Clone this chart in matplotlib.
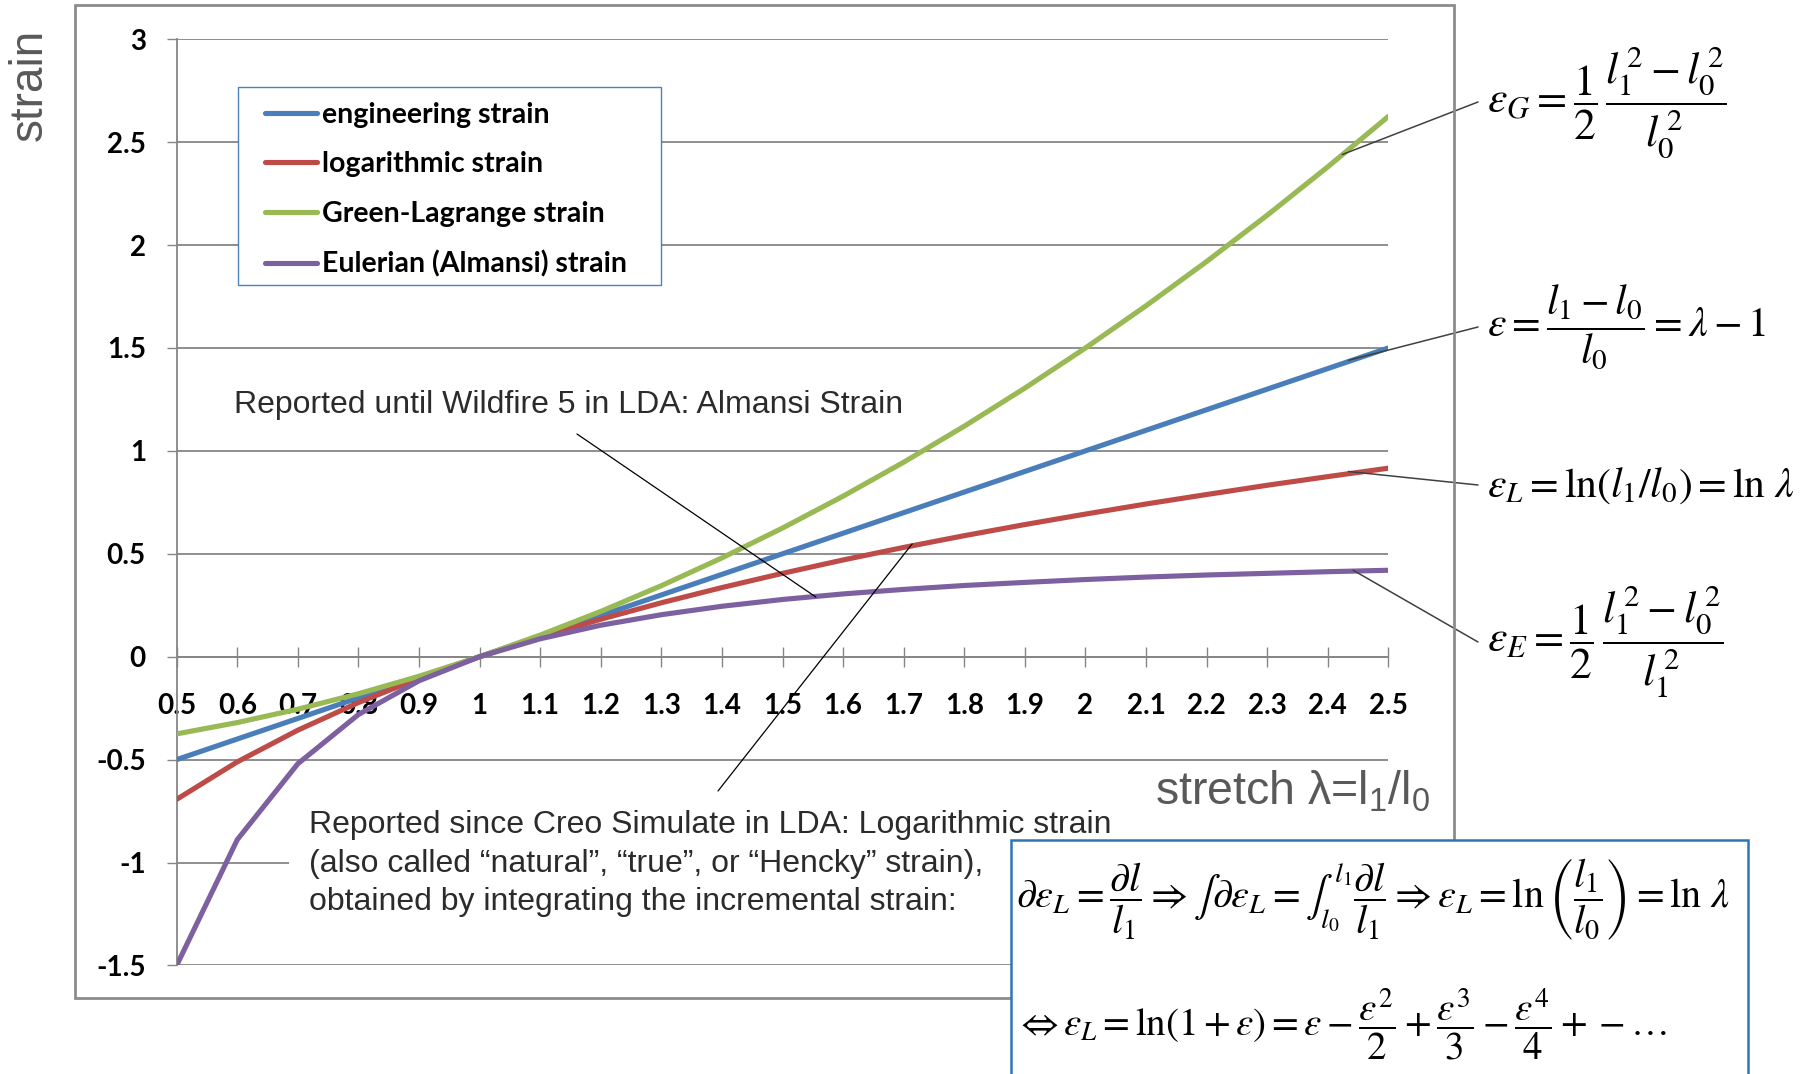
import matplotlib
matplotlib.use('Agg')
import matplotlib.pyplot as plt
from matplotlib.patches import Rectangle

# stretch values and strain measures
stretch = [0.5, 0.6, 0.7, 0.8, 0.9, 1.0, 1.1, 1.2, 1.3, 1.4, 1.5,
           1.6, 1.7, 1.8, 1.9, 2.0, 2.1, 2.2, 2.3, 2.4, 2.5]
engineering = [-0.5, -0.4, -0.3, -0.2, -0.1, 0.0, 0.1, 0.2, 0.3, 0.4, 0.5,
               0.6, 0.7, 0.8, 0.9, 1.0, 1.1, 1.2, 1.3, 1.4, 1.5]
logarithmic = [-0.693, -0.511, -0.357, -0.223, -0.105, 0.0, 0.095, 0.182, 0.262, 0.336, 0.405,
               0.470, 0.531, 0.588, 0.642, 0.693, 0.742, 0.788, 0.833, 0.875, 0.916]
green_lagrange = [-0.375, -0.32, -0.255, -0.18, -0.095, 0.0, 0.105, 0.22, 0.345, 0.48, 0.625,
                  0.78, 0.945, 1.12, 1.305, 1.5, 1.705, 1.92, 2.145, 2.38, 2.625]
almansi = [-1.5, -0.889, -0.520, -0.281, -0.117, 0.0, 0.087, 0.153, 0.204, 0.245, 0.278,
           0.305, 0.327, 0.346, 0.361, 0.375, 0.387, 0.397, 0.405, 0.413, 0.42]

series_names = ['engineering strain', 'logarithmic strain',
                'Green-Lagrange strain', 'Eulerian (Almansi) strain']
series_colors = ['#4A7EBB', '#BE4B48', '#98B954', '#7D60A0']

x_tick_labels = ['0.5', '0.6', '0.7', '0.8', '0.9', '1', '1.1', '1.2', '1.3', '1.4', '1.5',
                 '1.6', '1.7', '1.8', '1.9', '2', '2.1', '2.2', '2.3', '2.4', '2.5']
y_ticks = [-1.5, -1.0, -0.5, 0.0, 0.5, 1.0, 1.5, 2.0, 2.5, 3.0]
y_tick_labels = ['-1.5', '-1', '-0.5', '0', '0.5', '1', '1.5', '2', '2.5', '3']

plt.rcParams['mathtext.fontset'] = 'stix'
plt.rcParams['mathtext.rm'] = 'Liberation Sans'
plt.rcParams['mathtext.it'] = 'Liberation Sans:italic'
plt.rcParams['mathtext.bf'] = 'Liberation Sans:bold'

W, H = 1810, 1074
fig = plt.figure(figsize=(W / 100, H / 100), dpi=100)


def fx(px):
    return px / W


def fy(py):
    return 1 - py / H


grid_c = '#868686'

# outer chart frame
fig.add_artist(Rectangle((fx(75), fy(998)), fx(1454) - fx(75), fy(5) - fy(998),
                         fill=False, ec='#8C8C8C', lw=2, zorder=0.5))

ax = fig.add_axes([fx(176.7), fy(965.4), fx(1388.3) - fx(176.7), fy(39.3) - fy(965.4)])
ax.set_xlim(0.5, 2.5)
ax.set_ylim(-1.5, 3)
ax.patch.set_alpha(0)

for ys, name, c in zip([engineering, logarithmic, green_lagrange, almansi],
                       series_names, series_colors):
    ax.plot(stretch, ys, color=c, lw=3.7, label=name, zorder=3, solid_capstyle='round')

ax.spines['top'].set_visible(False)
ax.spines['right'].set_visible(False)
ax.spines['bottom'].set_position(('data', 0))
ax.spines['bottom'].set_color(grid_c)
ax.spines['left'].set_color(grid_c)
ax.spines['bottom'].set_linewidth(1.3)
ax.spines['left'].set_linewidth(1.3)

ax.set_axisbelow(True)
ax.yaxis.grid(True, color=grid_c, lw=1.3)

ax.set_xticks(stretch)
ax.set_xticklabels(x_tick_labels, fontfamily='Lato', fontweight='bold', fontsize=20)
ax.set_yticks(y_ticks)
ax.set_yticklabels(y_tick_labels, fontfamily='Lato', fontweight='bold', fontsize=20)
ax.tick_params(axis='x', direction='inout', length=14.4, width=1, color=grid_c, pad=19)
ax.tick_params(axis='y', direction='out', length=7.2, width=1, color=grid_c, pad=15)

# legend with its own box
ax.add_patch(Rectangle((fx(238), fy(285)), fx(661) - fx(238), fy(87) - fy(285),
                       transform=fig.transFigure, fc='white', ec='#4F81BD', lw=1,
                       zorder=4, clip_on=False))
leg = ax.legend(loc='upper left', bbox_to_anchor=(fx(265), fy(101.5)),
                bbox_transform=fig.transFigure, frameon=False, borderpad=0,
                borderaxespad=0, handlelength=1.84, handletextpad=0.15,
                labelspacing=0.83,
                prop={'family': 'Lato', 'weight': 'bold', 'size': 20.5})
leg.set_zorder(5)

# white background behind the lower note
ax.add_patch(Rectangle((fx(289), fy(935)), fx(1011) - fx(289), fy(797) - fy(935),
                       transform=fig.transFigure, fc='white', ec='none',
                       zorder=4, clip_on=False))

fig.text(fx(30), fy(85), 'strain', rotation=90, ha='center', va='center',
         fontsize=33, color='#595959', family='Liberation Sans')
fig.text(fx(1155), fy(805), 'stretch λ=l$_1$/l$_0$', ha='left', va='baseline',
         fontsize=33.5, color='#595959', family='Liberation Sans', math_fontfamily='custom')

note_c = '#2B2B2B'
fig.text(fx(234), fy(413), 'Reported until Wildfire 5 in LDA: Almansi Strain',
         ha='left', va='baseline', fontsize=23, color=note_c, family='Liberation Sans')
fig.text(fx(309), fy(910),
         'Reported since Creo Simulate in LDA: Logarithmic strain\n'
         '(also called \u201cnatural\u201d, \u201ctrue\u201d, or \u201cHencky\u201d strain),\n'
         'obtained by integrating the incremental strain:',
         ha='left', va='baseline', fontsize=23, color=note_c, family='Liberation Sans',
         linespacing=1.36, zorder=6)

ax.annotate('', xy=(1.555, 0.29), xycoords='data', xytext=(fx(577), fy(434)),
            textcoords='figure fraction',
            arrowprops=dict(arrowstyle='-', color='black', lw=0.9, shrinkA=0, shrinkB=0),
            zorder=6)
ax.annotate('', xy=(1.714, 0.548), xycoords='data', xytext=(fx(718), fy(791)),
            textcoords='figure fraction',
            arrowprops=dict(arrowstyle='-', color='black', lw=0.9, shrinkA=0, shrinkB=0),
            zorder=6)

# formulas on the right with leaders to the curves
formulas = [
    (r'$ε_G = \dfrac{1}{2}\,\dfrac{l_1^{\,2} - l_0^{\,2}}{l_0^{\,2}}$', 102, (2.424, 2.44), 31.5),
    (r'$ε = \dfrac{l_1 - l_0}{l_0} = \lambda - 1$', 327, (2.434, 1.44), 30),
    (r'$ε_L = \ln(l_1 / l_0) = \ln\,\lambda$', 485, (2.434, 0.90), 30),
    (r'$ε_E = \dfrac{1}{2}\,\dfrac{l_1^{\,2} - l_0^{\,2}}{l_1^{\,2}}$', 642, (2.442, 0.42), 31.5),
]
for txt, py, tip, size in formulas:
    fig.text(fx(1487), fy(py), txt, ha='left', va='center', fontsize=size, color='black',
             math_fontfamily='stix')
    ax.annotate('', xy=tip, xycoords='data', xytext=(fx(1478), fy(py)),
                textcoords='figure fraction',
                arrowprops=dict(arrowstyle='-', color='#404040', lw=1.1,
                                shrinkA=0, shrinkB=0),
                zorder=6, annotation_clip=False)

# blue box with the derivation
fig.add_artist(Rectangle((fx(1011), fy(1080)), fx(1748) - fx(1011), fy(840) - fy(1080),
                         fc='white', ec='#2E75B6', lw=1.8, zorder=1))
fig.text(fx(1016), fy(900),
         r'$\partial ε_L = \dfrac{\partial l}{l_1} \Rightarrow \int \partial ε_L = '
         r'\int_{l_0}^{l_1} \dfrac{\partial l}{l_1} \Rightarrow ε_L = '
         r'\ln\left(\dfrac{l_1}{l_0}\right) = \ln\,\lambda$',
         ha='left', va='center', fontsize=29, color='black', math_fontfamily='stix', zorder=2)
fig.text(fx(1016), fy(1024),
         r'$\Leftrightarrow ε_L = \ln(1+ε) = ε - \dfrac{ε^2}{2} + \dfrac{ε^3}{3}'
         r' - \dfrac{ε^4}{4} + -…$',
         ha='left', va='center', fontsize=28, color='black', math_fontfamily='stix', zorder=2)

fig.savefig('out.png', dpi=100)
